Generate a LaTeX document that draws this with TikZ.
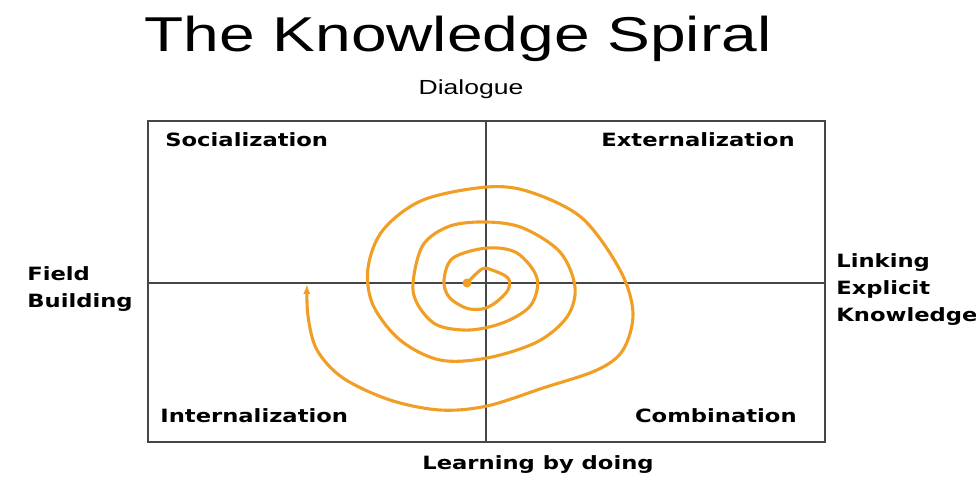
\documentclass[tikz,border=0pt]{standalone}
\usepackage{fontspec}
\setmainfont{Liberation Sans}
\newfontfamily\quadfont{DejaVu Sans}
\usetikzlibrary{arrows.meta,positioning}
\definecolor{spiralorange}{RGB}{240,158,36}
\definecolor{axisgray}{RGB}{70,70,70}
\tikzset
{
    titlenode/.style = {inner sep=0, xscale=1.31, font=\fontsize{34.8}{40}\selectfont},
    axisnode/.style  = {inner sep=0, xscale=1.3, font=\fontsize{14.5}{18}\selectfont},
    quadnode/.style  = {inner sep=0, xscale=1.24, align=left, font=\quadfont\bfseries\fontsize{13}{19.2}\selectfont},
    spiral/.style    = {draw=spiralorange, line width=2.2pt, line cap=round, line join=round}
}

\begin{document}
\begin{tikzpicture}[x=0.025cm, y=-0.025cm]
\useasboundingbox (0,0) rectangle (976,502);
\fill[white] (0,0) rectangle (976,502);

\coordinate (nw) at (148,121);
\coordinate (se) at (825,442);
\coordinate (top) at (486,121);
\coordinate (bottom) at (486,442);
\coordinate (left) at (148,283);
\coordinate (right) at (825,283);
\draw[axisgray, line width=1pt] (nw) rectangle (se);
\draw[axisgray, line width=1pt] (top) -- (bottom);
\draw[axisgray, line width=1pt] (left) -- (right);

\node[titlenode] (title) at (458,39) {The Knowledge Spiral};
\node[axisnode] (dialogue) at (471,89) {Dialogue};
\node[quadnode, anchor=west] (soc) at (165,140) {Socialization};
\node[quadnode, anchor=east] (ext) at (795,140) {Externalization};
\node[quadnode, anchor=west] (int) at (160,416) {Internalization};
\node[quadnode, anchor=east] (comb) at (797,416) {Combination};
\node[quadnode] (doing) at (538,465) {Learning by doing};
\node[quadnode, anchor=west] (field) at (27,289) {Field\\Building};
\node[quadnode, anchor=west] (linking) at (836,290) {Linking\\Explicit\\Knowledge};

\fill[spiralorange] (467,283) circle (4.5);
\draw[spiral, -{Latex[length=7pt,width=5pt]}] plot[smooth, tension=0.55] coordinates {
    (467,283) (482,269) (492,270) (508,278) (508,290) (495,303) (482,309)
    (466,308) (449,297) (444,280) (453,258) (487,248) (517,253) (537,278)
    (531,305) (505,322) (470,330) (437,325) (418,305) (413,283) (423,245)
    (450,226) (487,222) (523,228) (560,252) (575,287) (567,317) (537,342)
    (487,358) (440,360) (400,340) (373,305) (368,268) (383,230) (423,200)
    (487,187) (530,192) (582,218) (620,270) (633,313) (623,350) (597,370)
    (543,388) (487,406) (440,410) (390,400) (343,378) (317,350) (308,316)
    (307,284)};
\end{tikzpicture}
\end{document}
